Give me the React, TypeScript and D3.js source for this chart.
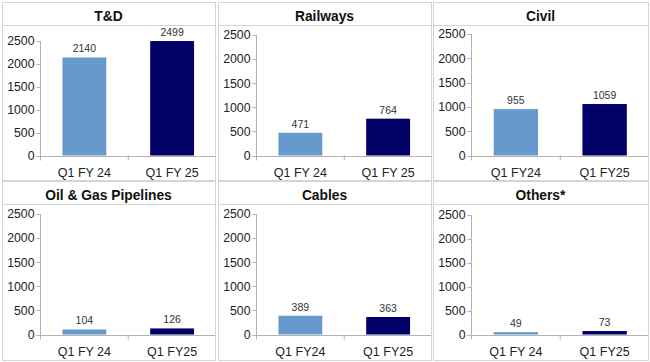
import React from "react";
import * as d3 from "d3";

const WIDTH = 650;
const HEIGHT = 362;

const titles = ["T&D", "Railways", "Civil", "Oil & Gas Pipelines", "Cables", "Others*"];
const q1fy24 = [2140, 471, 955, 104, 389, 49];
const q1fy25 = [2499, 764, 1059, 126, 363, 73];
const categoryLabels = [
  ["Q1 FY 24", "Q1 FY 25"],
  ["Q1 FY 24", "Q1 FY 25"],
  ["Q1 FY24", "Q1 FY25"],
  ["Q1 FY 24", "Q1 FY25"],
  ["Q1 FY24", "Q1 FY25"],
  ["Q1 FY 24", "Q1 FY25"],
];
const yTicks = [0, 500, 1000, 1500, 2000, 2500];

const COLORS = ["#6699cc", "#000066"];
const FONT = "'Liberation Sans', Arial, sans-serif";
const GRID = "#b3b3b3";
const BORDER = "#d4d4d4";

// panel boxes, left/right edges per column and top/bottom per row
const COLS = [
  [2, 215],
  [218, 431],
  [433, 648],
];
const ROWS = [
  [2, 180],
  [181, 360],
];
// the T&D plot sits a bit lower because of its tall value label
const PLOT_TOP = [39, 33, 32, 33, 33, 34];

const Panel = ({ i }: { i: number }) => {
  const [x0, x1] = COLS[i % 3];
  const [y0, y1] = ROWS[Math.floor(i / 3)];
  const axisX = x0 + 38.5;
  const top = y0 + PLOT_TOP[i];
  const bottom = y0 + 153.5;

  const xScale = d3.scaleBand<string>().domain(categoryLabels[i]).range([axisX, x1 + 1]).paddingInner(0).paddingOuter(0);
  const yScale = d3.scaleLinear().domain([0, 2500]).range([bottom, top]);
  const barW = xScale.bandwidth() * 0.5;
  const values = [q1fy24[i], q1fy25[i]];

  return (
    <g>
      <rect x={x0 + 0.5} y={y0 + 0.5} width={x1 - x0} height={y1 - y0} fill="#fff" stroke={BORDER} />
      <line x1={x0} x2={x1} y1={y0 + 23.5} y2={y0 + 23.5} stroke={BORDER} />
      <text x={(x0 + x1) / 2} y={y0 + 19} textAnchor="middle" fontSize={13.8} fontWeight="bold" fill="#111">
        {titles[i]}
      </text>

      {/* y axis */}
      <line x1={axisX} x2={axisX} y1={top} y2={bottom + 5} stroke={GRID} />
      {yTicks.map((t) => (
        <g key={t}>
          <line x1={axisX - 4} x2={axisX} y1={Math.round(yScale(t)) + 0.5} y2={Math.round(yScale(t)) + 0.5} stroke={GRID} />
          <text x={axisX - 6} y={yScale(t) + 4.3} textAnchor="end" fontSize={12.3} fill="#222">
            {t}
          </text>
        </g>
      ))}

      {/* x axis */}
      <line x1={axisX - 4} x2={x1} y1={Math.round(bottom) + 0.5} y2={Math.round(bottom) + 0.5} stroke={GRID} />
      {categoryLabels[i].map((c, k) =>
        k > 0 ? (
          <line key={c} x1={xScale(c)!} x2={xScale(c)!} y1={bottom} y2={bottom + 5} stroke={GRID} />
        ) : null
      )}

      {categoryLabels[i].map((c, k) => {
        const cx = xScale(c)! + xScale.bandwidth() / 2;
        const v = values[k];
        return (
          <g key={c}>
            <rect x={cx - barW / 2} y={yScale(v)} width={barW} height={bottom - yScale(v)} fill={COLORS[k]} />
            <text x={cx} y={yScale(v) - 5} textAnchor="middle" fontSize={10.5} fill="#333">
              {v}
            </text>
            <text x={cx} y={bottom + 21} textAnchor="middle" fontSize={12.5} fill="#222">
              {c}
            </text>
          </g>
        );
      })}
    </g>
  );
};

export default function App() {
  return (
    <svg
      width={WIDTH}
      height={HEIGHT}
      style={{ position: "absolute", left: 0, top: 0, background: "#fff" }}
      fontFamily={FONT}
    >
      <rect width={WIDTH} height={HEIGHT} fill="#fff" />
      {titles.map((t, i) => (
        <Panel key={t} i={i} />
      ))}
    </svg>
  );
}
